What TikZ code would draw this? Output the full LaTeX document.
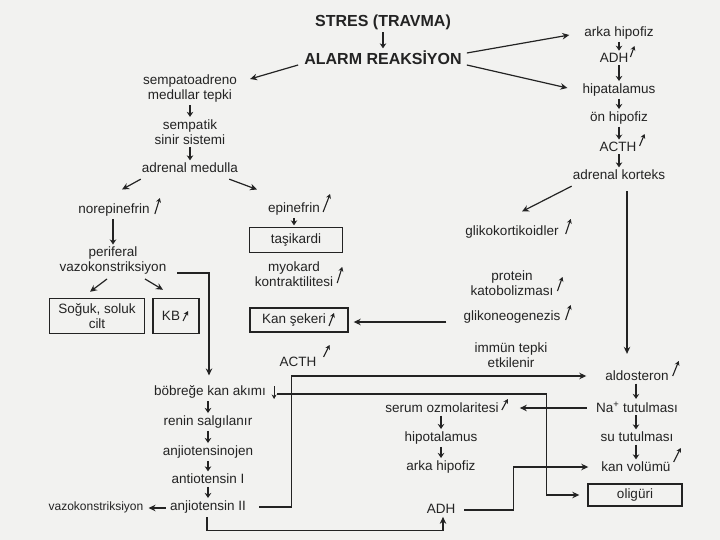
\documentclass[tikz,border=0pt]{standalone}
\usepackage{fontspec}
\setmainfont{Liberation Sans}
\usetikzlibrary{arrows.meta,calc}
\definecolor{ink}{RGB}{35,35,35}
\definecolor{paper}{RGB}{242,242,240}
\newcommand\upmark[3]{\draw[umark] ($(#1.east)+(#2)$) -- ++(#3);}
\begin{document}
\begin{tikzpicture}[x=1pt,y=-1pt,
 txt/.style={font=\fontsize{13.5}{15}\selectfont, text=ink, align=center, inner sep=1pt},
 big/.style={font=\bfseries\fontsize{16}{18}\selectfont, text=ink, inner sep=1pt},
 box/.style={txt, draw=ink, line width=1.4pt},
 darr/.style={draw=ink, line width=1.2pt, -{Stealth[length=5pt,width=6.5pt]}, shorten <=1.5pt, shorten >=1.5pt},
 conn/.style={draw=ink, line width=1.2pt, -{Stealth[length=7pt,width=6.5pt]}},
 umark/.style={draw=ink, line width=1.1pt, -{Stealth[length=4.5pt,width=5pt]}}]
\fill[paper] (0,0) rectangle (720,540);
\useasboundingbox (0,0) rectangle (720,540);

% title
\node[big] (stres) at (383,22) {STRES (TRAVMA)};
\node[big] (alarm) at (383,58) {ALARM REAKSİYON};

% right column
\node[txt] (ah1) at (619,33) {arka hipofiz};
\node[txt] (adh1) at (614,58) {ADH};
\node[txt] (hip1) at (619,90) {hipatalamus};
\node[txt] (on) at (619,118) {ön hipofiz};
\node[txt] (acth1) at (618,147) {ACTH};
\node[txt] (adk) at (619,175) {adrenal korteks};

% left column
\node[txt] (sem) at (190,89) {sempatoadreno\\medullar tepki};
\node[txt] (sss) at (190,132) {sempatik\\sinir sistemi};
\node[txt] (am) at (190,168) {adrenal medulla};
\node[txt] (nor) at (114,210) {norepinefrin};
\node[txt] (per) at (113,261) {periferal\\vazokonstriksiyon};
\node[box, minimum width=95pt, minimum height=35pt] (sog) at (97,316) {Soğuk, soluk\\cilt};
\node[box, minimum width=46pt, minimum height=35pt] (kb) at (176,316) {KB\hspace{10pt}};
\node[txt] (epi) at (294,209) {epinefrin};
\node[box, minimum width=93pt, minimum height=25pt] (tas) at (296,240) {taşikardi};
\node[txt] (myo) at (294,274) {myokard\\kontraktilitesi};
\node[box, minimum width=98pt, minimum height=24pt] (ks) at (299,320) {Kan şekeri\hspace{10pt}};
\node[txt] (acth2) at (298,362) {ACTH};

% middle right
\node[txt] (glk) at (512,232) {glikokortikoidler};
\node[txt] (pk) at (512,283) {protein\\katobolizması};
\node[txt] (gng) at (512,317) {glikoneogenezis};
\node[txt] (imm) at (511,355) {immün tepki\\etkilenir};

% lower right
\node[txt] (aldo) at (637,376) {aldosteron};
\node[txt] (na) at (637,407) {Na\textsuperscript{+} tutulması};
\node[txt] (su) at (637,437) {su tutulması};
\node[txt] (kv) at (636,467) {kan volümü};
\node[box, minimum width=94pt, minimum height=22pt] (olig) at (635,495) {oligüri};

\node[txt] (ser) at (442,408) {serum ozmolaritesi};
\node[txt] (hip2) at (441,438) {hipotalamus};
\node[txt] (ah2) at (441,467) {arka hipofiz};
\node[txt] (adh2) at (441,509) {ADH};

% lower left
\node[txt] (bob) at (210,392) {böbreğe kan akımı};
\node[txt] (ren) at (208,422) {renin salgılanır};
\node[txt] (anj0) at (208,452) {anjiotensinojen};
\node[txt] (anj1) at (208,479) {antiotensin I};
\node[txt] (anj2) at (208,507) {anjiotensin II};
\node[txt, font=\fontsize{12}{14}\selectfont] (vaz) at (96,507) {vazokonstriksiyon};

% short down arrows
\foreach \a/\b/\c in {stres/alarm/stres, ah1/adh1/adk, adh1/hip1/adk, hip1/on/adk, on/acth1/adk, acth1/adk/adk,
  sem/sss/sem, sss/am/sem, nor/per/per, epi/tas/epi,
  ser/hip2/hip2, hip2/ah2/hip2, aldo/na/kv, na/su/kv, su/kv/kv,
  bob/ren/ren, ren/anj0/ren, anj0/anj1/ren, anj1/anj2/ren}
  \draw[darr] (\a.south -| \c) -- (\b.north -| \c);

% connectors
\draw[conn] ($(alarm.east)+(4,-5)$) -- ($(ah1.west)+(-14,2)$);
\draw[conn] ($(alarm.east)+(4,7)$) -- ($(hip1.west)+(-14,-2)$);
\draw[conn] ($(alarm.west)+(-5,7)$) -- ($(sem.north east)+(12,5)$);
\draw[conn] ($(am.south west)+(0,5)$) -- ($(nor.north)+(8,-13)$);
\draw[conn] ($(am.south east)+(-10,5)$) -- ($(epi.north)+(-37,-12)$);
\draw[conn] ($(per.south)+(-6,3)$) -- ($(sog.north)+(-7,-6)$);
\draw[conn] ($(per.south)+(32,3)$) -- ($(kb.north)+(-13,-8)$);
\draw[conn] ($(per.east)+(10,12)$) -| ($(bob.north)+(-1,-9)$);
\coordinate (gs) at ($(gng.west)+(-16,5)$);
\draw[conn, shorten >=5pt] (gs) -- (gs -| ks.east);
\draw[conn] ($(adk.south west)+(0,5)$) -- ($(glk.north)+(10,-13)$);
\draw[conn] ($(adk.south)+(8,10)$) -- ($(aldo.north)+(-10,-16)$);
\draw[conn] ($(anj2.east)+(12,0)$) -- ++(32,0) |- ($(aldo.west)+(-18,0)$);
\draw[conn] ($(bob.east)+(10,2)$) -- ++(269,0) |- ($(olig.west)+(-8,0)$);
\draw[conn] ($(na.west)+(-8,1)$) -- ($(ser.east)+(20,0)$);
\draw[conn] ($(adh2.east)+(8,1)$) -- ++(49,0) |- ($(kv.west)+(-12,0)$);
\draw[conn] ($(anj2.south)+(-1,3)$) -- ++(0,13) -| ($(adh2.south)+(2,2)$);
\draw[conn] ($(anj2.west)+(-3,1)$) -- ($(vaz.east)+(4,1)$);

% increase / decrease marks
\upmark{adh1}{1,-1}{4,-11}
\upmark{acth1}{2,-1}{5,-12}
\upmark{nor}{4,4}{5,-16}
\upmark{epi}{2,3}{7,-18}
\upmark{myo}{3,9}{5,-16}
\upmark{acth2}{6,-5}{6,-12}
\upmark{glk}{6,2}{5,-15}
\upmark{pk}{3,8}{5,-14}
\upmark{gng}{4,3}{5,-15}
\upmark{aldo}{3,0}{6,-15}
\upmark{kv}{2,-5}{7,-14}
\upmark{ser}{2,2}{6,-11}
\draw[umark] ($(kb.center)+(7,5)$) -- ++(5,-10);
\draw[umark] ($(ks.center)+(30,6)$) -- ++(5,-13);
\draw[umark] ($(bob.east)+(7,-6)$) -- ++(0,13);
\end{tikzpicture}
\end{document}
